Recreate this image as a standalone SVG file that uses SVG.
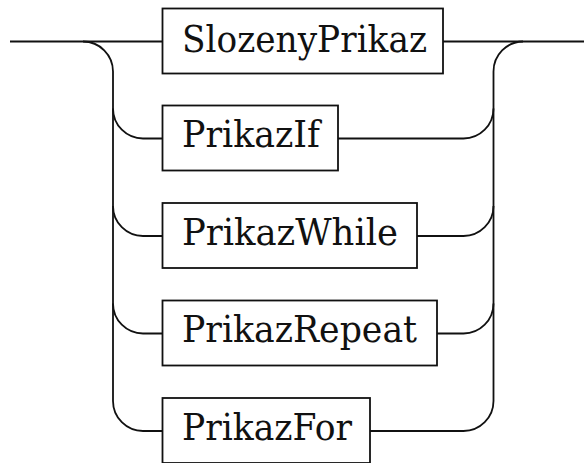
<svg xmlns="http://www.w3.org/2000/svg" width="584" height="463" viewBox="0 0 584 463">
<style>
.c{fill:none;stroke:#111;stroke-width:1.8}
.b{fill:#fff;stroke:#111;stroke-width:1.8}
.t{font-family:"DejaVu Serif",serif;font-size:37px;fill:#111}
</style>
<rect width="584" height="463" fill="#fff"/>
<g id="connectors">
<path class="c" d="M10 41.5 H162"/>
<path class="c" d="M443 41.5 H584"/>
<path class="c" d="M83 41.5 A30 30 0 0 1 113 71.5 V401 A30 30 0 0 0 143 431 H162"/>
<path class="c" d="M113 108.5 A30 30 0 0 0 143 138.5 H162"/>
<path class="c" d="M113 206 A30 30 0 0 0 143 236 H162"/>
<path class="c" d="M113 303.5 A30 30 0 0 0 143 333.5 H162"/>
<path class="c" d="M523 41.5 A30 30 0 0 0 493.5 71.5 V401 A30 30 0 0 1 463.5 431 H370"/>
<path class="c" d="M338 138.5 H463.5 A30 30 0 0 0 493.5 108.5"/>
<path class="c" d="M417 236 H463.5 A30 30 0 0 0 493.5 206"/>
<path class="c" d="M437 333.5 H463.5 A30 30 0 0 0 493.5 303.5"/>
</g>
<g id="SlozenyPrikaz">
<rect class="b" x="162.5" y="8.5" width="280.5" height="65"/>
<text class="t" x="182" y="52" textLength="245" lengthAdjust="spacingAndGlyphs">SlozenyPrikaz</text>
</g>
<g id="PrikazIf">
<rect class="b" x="162.5" y="105.5" width="175.5" height="65"/>
<text class="t" x="182" y="147" textLength="138" lengthAdjust="spacingAndGlyphs">PrikazIf</text>
</g>
<g id="PrikazWhile">
<rect class="b" x="162.5" y="203" width="254.5" height="65"/>
<text class="t" x="182" y="244.5" textLength="216" lengthAdjust="spacingAndGlyphs">PrikazWhile</text>
</g>
<g id="PrikazRepeat">
<rect class="b" x="162.5" y="300.5" width="274.5" height="65"/>
<text class="t" x="182" y="342" textLength="235" lengthAdjust="spacingAndGlyphs">PrikazRepeat</text>
</g>
<g id="PrikazFor">
<rect class="b" x="162.5" y="398" width="207.5" height="65"/>
<text class="t" x="182" y="439.5" textLength="170" lengthAdjust="spacingAndGlyphs">PrikazFor</text>
</g>
</svg>
